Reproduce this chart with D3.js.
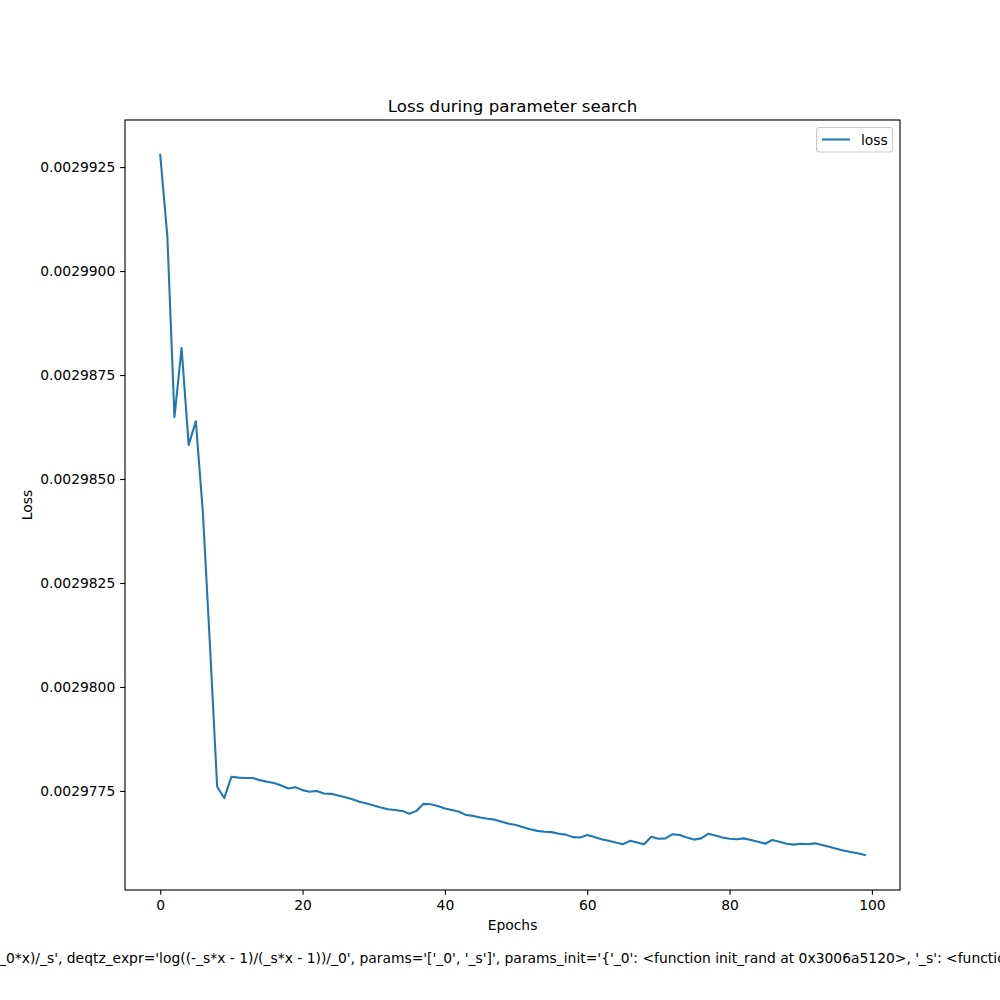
<!DOCTYPE html>
<html>
<head>
<meta charset="utf-8">
<script src="https://cdn.jsdelivr.net/npm/d3@7"></script>
<style>
  html, body { margin: 0; padding: 0; background: #fff; }
  svg { display: block; }
  text { font-family: "DejaVu Sans", sans-serif; fill: #000; }
</style>
</head>
<body>
<svg id="chart" width="1000" height="1000"></svg>
<script>
// ---- data ----
const epochs = d3.range(100);
const loss = [
  0.00299279, 0.00299084, 0.00298649, 0.00298815, 0.00298582,
  0.00298639, 0.00298418, 0.00298096, 0.00297760, 0.00297733,
  0.00297784, 0.00297782, 0.00297781, 0.00297781, 0.00297776,
  0.00297772, 0.00297769, 0.00297763, 0.00297756, 0.00297759,
  0.00297752, 0.00297748, 0.00297750, 0.00297744, 0.00297743,
  0.00297739, 0.00297735, 0.00297730, 0.00297724, 0.00297720,
  0.00297715, 0.00297710, 0.00297706, 0.00297704, 0.00297702,
  0.00297695, 0.00297702, 0.00297719, 0.00297718, 0.00297714,
  0.00297708, 0.00297704, 0.00297700, 0.00297692, 0.00297690,
  0.00297686, 0.00297683, 0.00297681, 0.00297676, 0.00297671,
  0.00297668, 0.00297663, 0.00297658, 0.00297654, 0.00297652,
  0.00297651, 0.00297647, 0.00297645, 0.00297639, 0.00297638,
  0.00297644, 0.00297639, 0.00297634, 0.00297630, 0.00297626,
  0.00297622, 0.00297630, 0.00297626, 0.00297622, 0.00297640,
  0.00297635, 0.00297636, 0.00297646, 0.00297644, 0.00297638,
  0.00297633, 0.00297636, 0.00297647, 0.00297643, 0.00297638,
  0.00297635, 0.00297634, 0.00297636, 0.00297632, 0.00297628,
  0.00297623, 0.00297632, 0.00297628, 0.00297623, 0.00297621,
  0.00297623, 0.00297622, 0.00297624, 0.00297620, 0.00297616,
  0.00297611, 0.00297607, 0.00297603, 0.00297600, 0.00297596
];
const xTicks = [0, 20, 40, 60, 80, 100];
const yTicks = [0.0029775, 0.0029800, 0.0029825, 0.0029850, 0.0029875, 0.0029900, 0.0029925];
const yTickLabels = ["0.0029775", "0.0029800", "0.0029825", "0.0029850", "0.0029875", "0.0029900", "0.0029925"];
const titleText = "Loss during parameter search";
const xLabel = "Epochs";
const yLabel = "Loss";
const legendLabel = "loss";
const captionHidden = "Transform(qtz_expr='tanh(_0*x)/_s', ".slice(0, -"_0*x)/_s', ".length);
const captionText = "Transform(qtz_expr='tanh(_0*x)/_s', deqtz_expr='log((-_s*x - 1)/(_s*x - 1))/_0', params='['_0', '_s']', params_init='{'_0': <function init_rand at 0x3006a5120>, '_s': <function init_rand at 0x3006a5240>}')";

// ---- layout ----
const L = 125, R = 900, T = 120, B = 890;
const fs = 13.89;
const svg = d3.select("#chart");

const xExt = d3.extent(epochs), xPad = (xExt[1] - xExt[0]) * 0.05;
const yExt = d3.extent(loss), yPad = (yExt[1] - yExt[0]) * 0.05;
const x = d3.scaleLinear().domain([xExt[0] - xPad, xExt[1] + xPad]).range([L, R]);
const y = d3.scaleLinear().domain([yExt[0] - yPad, yExt[1] + yPad]).range([B, T]);

// line
const line = d3.line().x((d, i) => x(epochs[i])).y(d => y(d));
svg.append("path")
  .datum(loss)
  .attr("d", line)
  .attr("fill", "none")
  .attr("stroke", "#1f77b4")
  .attr("stroke-width", 2.08)
  .attr("stroke-linejoin", "round")
  .attr("stroke-linecap", "square");

// axes
const xAxis = d3.axisBottom(x).tickValues(xTicks).tickSize(4.86).tickPadding(4.86).tickFormat(d3.format("d"));
const gx = svg.append("g").attr("transform", `translate(0,${B})`).call(xAxis);
const yAxis = d3.axisLeft(y).tickValues(yTicks).tickSize(4.86).tickPadding(4.86)
  .tickFormat((d, i) => yTickLabels[i]);
const gy = svg.append("g").attr("transform", `translate(${L},0)`).call(yAxis);
[gx, gy].forEach(g => {
  g.select(".domain").remove();
  g.selectAll(".tick line").attr("stroke", "#000").attr("stroke-width", 1.11);
  g.selectAll(".tick text").attr("font-family", "DejaVu Sans").attr("font-size", fs).attr("fill", "#000");
});

// frame
svg.append("rect").attr("x", L).attr("y", T).attr("width", R - L).attr("height", B - T)
  .attr("fill", "none").attr("stroke", "#000").attr("stroke-width", 1.11);

// title and labels
svg.append("text").attr("x", (L + R) / 2).attr("y", T - 8.3).attr("text-anchor", "middle")
  .attr("font-size", 16.67).text(titleText);
svg.append("text").attr("x", (L + R) / 2).attr("y", 930).attr("text-anchor", "middle")
  .attr("font-size", fs).text(xLabel);
svg.append("text").attr("transform", `translate(32,${(T + B) / 2}) rotate(-90)`).attr("text-anchor", "middle")
  .attr("font-size", fs).text(yLabel);

// legend
const lg = svg.append("g");
lg.append("rect").attr("x", 816.5).attr("y", 127.5).attr("width", 76).attr("height", 24.5).attr("rx", 3)
  .attr("fill", "#fff").attr("fill-opacity", 0.8).attr("stroke", "#cccccc").attr("stroke-width", 1.11);
lg.append("line").attr("x1", 822).attr("x2", 850).attr("y1", 139.5).attr("y2", 139.5)
  .attr("stroke", "#1f77b4").attr("stroke-width", 2.08);
lg.append("text").attr("x", 861).attr("y", 144.5).attr("font-size", fs).text(legendLabel);

// caption (overflowing figure text)
const tmp = svg.append("text").attr("font-size", fs).text(captionHidden);
const hiddenW = tmp.node().getComputedTextLength();
tmp.remove();
svg.append("text").attr("x", -1 - hiddenW).attr("y", 963).attr("font-size", fs).text(captionText);
</script>
</body>
</html>
